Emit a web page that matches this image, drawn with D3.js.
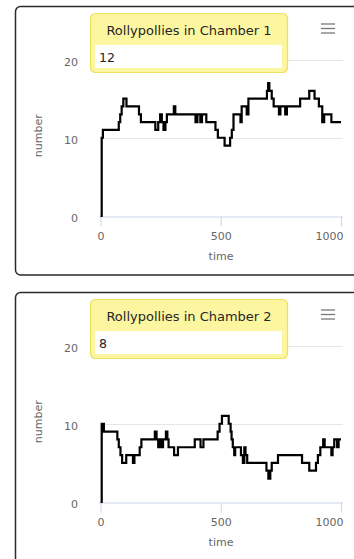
<!DOCTYPE html>
<html>
<head>
<meta charset="utf-8">
<script src="https://cdn.jsdelivr.net/npm/d3@7/dist/d3.min.js"></script>
<style>
  body { margin: 0; background: #fff; }
  svg { display: block; font-family: "DejaVu Sans", "Noto Sans", sans-serif; }
</style>
</head>
<body>
<svg id="chart" width="354" height="559"></svg>
<script>
// Population counts over time in each chamber (step changes)
const chamberTitles = ["Rollypollies in Chamber 1", "Rollypollies in Chamber 2"];
const xTicks = [0, 500, 1000];
const yTicks = [0, 10, 20];
const xTitle = "time";
const yTitle = "number";

const chamber1Time  = [0, 5, 10, 76, 82, 88, 95, 108, 160, 168, 228, 240, 248, 255, 262, 270, 276, 305, 311, 395, 403, 415, 422, 440, 478, 488, 516, 539, 546, 553, 582, 587, 608, 615, 692, 697, 702, 712, 720, 742, 748, 768, 775, 830, 868, 890, 908, 922, 930, 960, 1000];
const chamber1Count = [0, 10, 11, 12, 13, 14, 15, 14, 13, 12, 11, 12, 13, 12, 11, 12, 13, 14, 13, 12, 13, 12, 13, 12, 11, 10, 9, 10, 11, 13, 12, 14, 13, 15, 16, 17, 16, 15, 14, 13, 14, 13, 14, 15, 16, 15, 14, 12, 13, 12, 12];

const chamber2Time  = [0, 5, 14, 70, 76, 83, 90, 107, 135, 141, 163, 170, 226, 233, 240, 246, 252, 260, 272, 278, 283, 306, 322, 392, 416, 428, 487, 495, 505, 533, 541, 545, 550, 556, 560, 584, 592, 598, 603, 610, 690, 698, 706, 712, 738, 838, 868, 896, 904, 914, 926, 932, 960, 965, 972, 984, 990, 1000];
const chamber2Count = [0, 10, 9, 8, 7, 6, 5, 6, 5, 6, 7, 8, 9, 8, 7, 8, 7, 8, 9, 8, 7, 6, 7, 8, 7, 8, 9, 10, 11, 10, 9, 8, 7, 6, 7, 6, 5, 7, 6, 5, 4, 3, 4, 5, 6, 5, 4, 5, 6, 7, 8, 7, 6, 7, 8, 7, 8, 8];

const currentValues = [12, 8];

const series = [
  { time: chamber1Time, count: chamber1Count },
  { time: chamber2Time, count: chamber2Count }
];

const svg = d3.select("#chart");
const panelOffsets = [0, 286];
const labelColor = "#666666";

series.forEach((s, i) => {
  const dy = panelOffsets[i];
  const g = svg.append("g").attr("transform", `translate(0,${dy})`);

  // Panel frame (runs past the right edge of the window)
  g.append("rect")
    .attr("x", 15.5).attr("y", 6.5)
    .attr("width", 380).attr("height", i === 0 ? 268.5 : 300)
    .attr("rx", 5)
    .attr("fill", "#fff")
    .attr("stroke", "#2b2b2b")
    .attr("stroke-width", 1.5);

  const x = d3.scaleLinear().domain([0, 1000]).range([100.5, 341]);
  const y = d3.scaleLinear().domain([0, 20]).range([216, 59.5]);

  // Horizontal gridlines
  g.append("g")
    .selectAll("line")
    .data(yTicks.filter(v => v > 0))
    .join("line")
    .attr("x1", 100).attr("x2", 343)
    .attr("y1", d => Math.round(y(d)) + 0.5)
    .attr("y2", d => Math.round(y(d)) + 0.5)
    .attr("stroke", "#e6e6e6")
    .attr("stroke-width", 1);

  // Y tick labels
  g.append("g")
    .selectAll("text")
    .data(yTicks)
    .join("text")
    .attr("x", 78)
    .attr("y", d => y(d) + 6)
    .attr("text-anchor", "end")
    .attr("font-size", 11)
    .attr("fill", labelColor)
    .text(d => d);

  // Y axis title
  g.append("text")
    .attr("transform", `translate(42,${(y(0) + y(20)) / 2 - 2}) rotate(-90)`)
    .attr("text-anchor", "middle")
    .attr("font-size", 11)
    .attr("fill", labelColor)
    .text(yTitle);

  // X axis
  const xAxis = d3.axisBottom(x)
    .tickValues(xTicks)
    .tickSize(10)
    .tickPadding(6)
    .tickFormat(d3.format("d"));
  const ax = g.append("g")
    .attr("transform", `translate(0,${y(0) + 0.5})`)
    .call(xAxis);
  ax.select(".domain").attr("stroke", "#ccd6eb").attr("d", `M99,0.5H343`);
  ax.selectAll(".tick line").attr("stroke", "#ccd6eb");
  ax.selectAll(".tick text")
    .attr("font-size", 11)
    .attr("font-family", "DejaVu Sans, sans-serif")
    .attr("fill", labelColor)
    .attr("text-anchor", d => d === xTicks[xTicks.length - 1] ? "end" : "middle")
    .attr("dx", d => d === xTicks[xTicks.length - 1] ? 2 : 0);

  g.append("text")
    .attr("x", 221).attr("y", y(0) + 44)
    .attr("text-anchor", "middle")
    .attr("font-size", 11)
    .attr("fill", labelColor)
    .text(xTitle);

  // Data line
  const pts = s.time.map((t, k) => [t, s.count[k]]);
  const line = d3.line()
    .x(d => x(d[0]))
    .y(d => y(d[1]))
    .curve(d3.curveStepAfter);
  g.append("path")
    .datum(pts)
    .attr("d", line)
    .attr("fill", "none")
    .attr("stroke", "#000")
    .attr("stroke-width", 2.2)
    .attr("stroke-linejoin", "miter");

  // Menu icon
  g.append("g")
    .selectAll("line")
    .data([24, 28.5, 33])
    .join("line")
    .attr("x1", 321).attr("x2", 335)
    .attr("y1", d => d).attr("y2", d => d)
    .attr("stroke", "#777")
    .attr("stroke-width", 1.3);

  // Value readout box
  const box = g.append("g");
  box.append("rect")
    .attr("x", 90.5).attr("y", 13.5)
    .attr("width", 197).attr("height", 59)
    .attr("rx", 5)
    .attr("fill", "#fdf6a0")
    .attr("stroke", "#ece05e")
    .attr("stroke-width", 1.2);
  box.append("text")
    .attr("x", 189).attr("y", 35)
    .attr("text-anchor", "middle")
    .attr("font-size", 13)
    .attr("fill", "#262626")
    .text(chamberTitles[i]);
  box.append("rect")
    .attr("x", 95).attr("y", 45)
    .attr("width", 187).attr("height", 23)
    .attr("fill", "#fff");
  box.append("text")
    .attr("x", 99).attr("y", 61.5)
    .attr("font-size", 12.5)
    .attr("fill", "#222")
    .text(currentValues[i]);
});
</script>
</body>
</html>
